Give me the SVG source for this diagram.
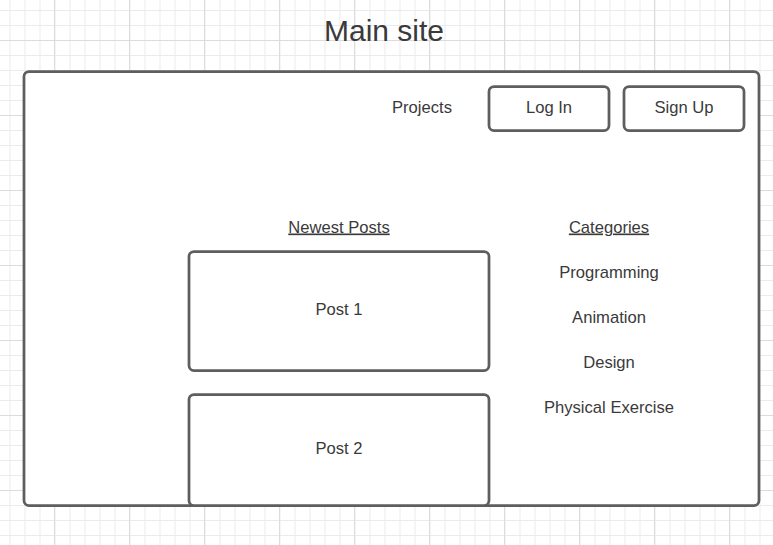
<svg xmlns="http://www.w3.org/2000/svg" width="773" height="545" viewBox="0 0 773 545">
  <defs>
    <pattern id="minor" x="9.5" y="10" width="15" height="15" patternUnits="userSpaceOnUse">
      <path d="M0 0.5H15M0.5 0V15" fill="none" stroke="#ebebeb" stroke-width="1"/>
    </pattern>
    <pattern id="major" x="54" y="40" width="75" height="75" patternUnits="userSpaceOnUse">
      <path d="M0 0.5H75M0.5 0V75" fill="none" stroke="#dcdcdc" stroke-width="1"/>
    </pattern>
  </defs>
  <style>
    .box { fill: #ffffff; stroke: #5e5e5e; stroke-width: 2.75; }
    .lbl { font-family: "Liberation Sans", Arial, sans-serif; font-size: 16.6px; fill: #3a3a3a; text-anchor: middle; }
    .title { font-family: "Liberation Sans", Arial, sans-serif; font-size: 30px; fill: #3a3a3a; text-anchor: middle; }
    .ul { text-decoration: underline; }
  </style>

  <!-- background grid -->
  <rect width="773" height="545" fill="#ffffff"/>
  <rect width="773" height="545" fill="url(#minor)"/>
  <rect width="773" height="545" fill="url(#major)"/>

  <text class="title" x="384" y="41">Main site</text>

  <g id="page">
    <rect class="box" x="24" y="71.5" width="735" height="434" rx="5"/>
  </g>

  <g id="projects">
    <text class="lbl" x="422" y="112.5">Projects</text>
  </g>

  <g id="login">
    <rect class="box" x="489" y="86.5" width="120" height="44" rx="5"/>
    <text class="lbl" x="549" y="112.5">Log In</text>
  </g>

  <g id="signup">
    <rect class="box" x="624" y="86.5" width="120" height="44" rx="5"/>
    <text class="lbl" x="684" y="112.5">Sign Up</text>
  </g>

  <g id="newest-posts">
    <text class="lbl ul" x="339" y="232.5">Newest Posts</text>
  </g>

  <g id="post1">
    <rect class="box" x="189" y="251.5" width="300" height="119" rx="5"/>
    <text class="lbl" x="339" y="314.5">Post 1</text>
  </g>

  <g id="post2">
    <rect class="box" x="189" y="394.5" width="300" height="111" rx="5"/>
    <text class="lbl" x="339" y="453.5">Post 2</text>
  </g>

  <g id="categories">
    <text class="lbl ul" x="609" y="232.5">Categories</text>
    <text class="lbl" x="609" y="277.5">Programming</text>
    <text class="lbl" x="609" y="322.5">Animation</text>
    <text class="lbl" x="609" y="367.5">Design</text>
    <text class="lbl" x="609" y="412.5">Physical Exercise</text>
  </g>

  <g id="connectors"/>
</svg>
